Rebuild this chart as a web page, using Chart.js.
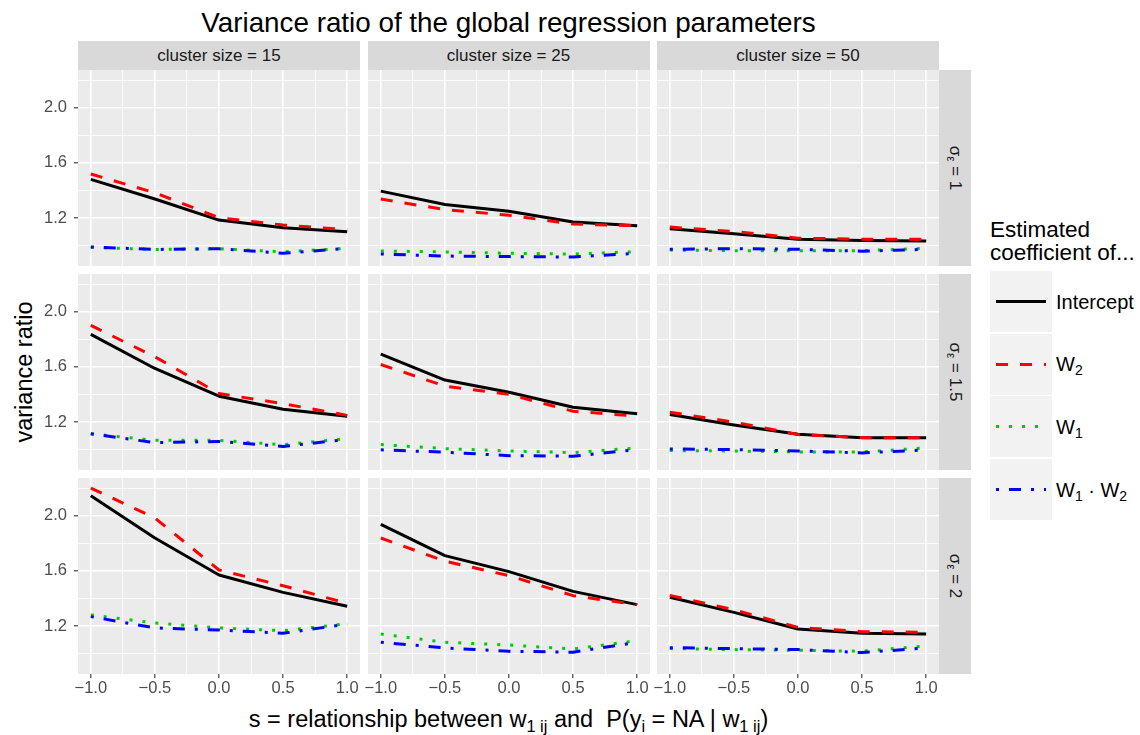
<!DOCTYPE html>
<html>
<head>
<meta charset="utf-8">
<script src="https://cdn.jsdelivr.net/npm/chart.js@4.4.0/dist/chart.umd.min.js"></script>
<style>
  body { margin: 0; width: 1140px; height: 735px; background: #fff; position: relative; overflow: hidden;
         font-family: "Liberation Sans", Arial, sans-serif; }
  canvas { position: absolute; }
  .strip { position: absolute; background: #d9d9d9; color: #1a1a1a; font-size: 17px;
           display: flex; align-items: center; justify-content: center; white-space: nowrap; }
  .rot { transform: rotate(90deg); }
  sub { font-size: 0.7em; vertical-align: -0.3em; line-height: 0; }
  #title { position: absolute; left: 78px; width: 861px; top: 9px; text-align: center;
           font-size: 27.8px; line-height: 27px; color: #000; white-space: nowrap; }
  #ytitle { position: absolute; left: 24px; top: 372px; transform: translate(-50%, -50%) rotate(-90deg);
            font-size: 23.5px; white-space: nowrap; }
  #xtitle { position: absolute; left: 78px; width: 861px; top: 708px; text-align: center;
            font-size: 23.5px; line-height: 23.5px; white-space: nowrap; }
  #legtitle { position: absolute; left: 990px; top: 218px; font-size: 22.5px; line-height: 23px; }
  .key { position: absolute; left: 990px; width: 62px; height: 61px; background: #f2f2f2; }
  .keylab { position: absolute; left: 1056px; font-size: 20px; line-height: 20px; white-space: nowrap; }
</style>
</head>
<body>
<div id="title">Variance ratio of the global regression parameters</div>
<div id="ytitle">variance ratio</div>
<div id="xtitle">s = relationship between w<sub>1 ij</sub> and&nbsp; P(y<sub>i</sub> = NA | w<sub>1 ij</sub>)</div>
<div id="legtitle">Estimated<br>coefficient of...</div>

<script>
// === data ===
const sValues = [-1, -0.5, 0, 0.5, 1];
const clusterSizes = ["15", "25", "50"];
const sigmaLabels = ["1", "1.5", "2"];

// rows = sigma (1, 1.5, 2), columns = cluster size (15, 25, 50)
const interceptRatio = [
  [[1.480, 1.338, 1.185, 1.129, 1.100], [1.395, 1.298, 1.249, 1.171, 1.144], [1.122, 1.085, 1.046, 1.037, 1.034]],
  [[1.835, 1.588, 1.387, 1.292, 1.241], [1.692, 1.504, 1.416, 1.307, 1.259], [1.254, 1.179, 1.111, 1.085, 1.085]],
  [[2.144, 1.838, 1.570, 1.444, 1.343], [1.937, 1.710, 1.594, 1.451, 1.355], [1.408, 1.299, 1.178, 1.147, 1.142]]
];
const w2Ratio = [
  [[1.519, 1.383, 1.202, 1.149, 1.115], [1.337, 1.261, 1.220, 1.156, 1.144], [1.134, 1.102, 1.054, 1.046, 1.046]],
  [[1.900, 1.673, 1.406, 1.333, 1.248], [1.617, 1.460, 1.400, 1.278, 1.242], [1.271, 1.199, 1.109, 1.087, 1.085]],
  [[2.200, 1.983, 1.606, 1.492, 1.364], [1.838, 1.670, 1.565, 1.420, 1.355], [1.422, 1.318, 1.190, 1.159, 1.154]]
];
const w1Ratio = [
  [[0.987, 0.972, 0.977, 0.955, 0.980], [0.961, 0.954, 0.944, 0.939, 0.956], [0.968, 0.963, 0.963, 0.963, 0.980]],
  [[1.115, 1.067, 1.067, 1.035, 1.079], [1.036, 1.007, 0.990, 0.978, 1.012], [0.993, 0.990, 0.983, 0.983, 1.012]],
  [[1.280, 1.222, 1.186, 1.166, 1.217], [1.142, 1.082, 1.062, 1.033, 1.094], [1.036, 1.029, 1.024, 1.017, 1.056]]
];
const w1w2Ratio = [
  [[0.990, 0.972, 0.977, 0.944, 0.980], [0.939, 0.924, 0.920, 0.917, 0.944], [0.973, 0.978, 0.973, 0.959, 0.973]],
  [[1.115, 1.050, 1.059, 1.023, 1.074], [0.998, 0.981, 0.956, 0.952, 1.000], [1.005, 1.000, 0.990, 0.976, 0.998]],
  [[1.268, 1.186, 1.171, 1.147, 1.214], [1.082, 1.041, 1.017, 1.010, 1.082], [1.043, 1.036, 1.029, 1.007, 1.041]]
];

// tick positions (major ones get labels)
const xTicks = [-1, -0.75, -0.5, -0.25, 0, 0.25, 0.5, 0.75, 1];
const xMajor = [-1, -0.5, 0, 0.5, 1];
const yTicks = [1.0, 1.2, 1.4, 1.6, 1.8, 2.0, 2.2];
const yMajor = [1.2, 1.6, 2.0];

// series styles, legend order
const series = [
  { key: "intercept", label: "Intercept", data: interceptRatio, color: "#000000", dash: [] },
  { key: "w2", label: "W<sub>2</sub>", data: w2Ratio, color: "#ff0000", dash: [12, 12] },
  { key: "w1", label: "W<sub>1</sub>", data: w1Ratio, color: "#00cd00", dash: [3, 10] },
  { key: "w1w2", label: "W<sub>1</sub> · W<sub>2</sub>", data: w1w2Ratio, color: "#0000ff", dash: [3, 10, 12, 10] }
];

// === layout of the facet grid ===
const panelLeft = [78, 367.5, 657];
const panelTop = [70, 274, 478];
const panelW = 282;
const panelH = 196;
const FONT = '"Liberation Sans", Arial, sans-serif';

const isIn = (v, list) => list.some((m) => Math.abs(m - v) < 1e-6);

// grey panel background behind the grid
const panelBg = {
  id: "panelBg",
  beforeDraw(chart) {
    const a = chart.chartArea;
    const ctx = chart.ctx;
    ctx.save();
    ctx.fillStyle = "#ebebeb";
    ctx.fillRect(a.left, a.top, a.right - a.left, a.bottom - a.top);
    ctx.restore();
  }
};

// top strips
clusterSizes.forEach((cs, c) => {
  const d = document.createElement("div");
  d.className = "strip";
  d.style.left = panelLeft[c] + "px";
  d.style.top = "41px";
  d.style.width = panelW + "px";
  d.style.height = "29px";
  d.textContent = "cluster size = " + cs;
  document.body.appendChild(d);
});

// right strips
sigmaLabels.forEach((sg, r) => {
  const d = document.createElement("div");
  d.className = "strip";
  d.style.left = "939px";
  d.style.top = panelTop[r] + "px";
  d.style.width = "32px";
  d.style.height = panelH + "px";
  d.innerHTML = '<span class="rot" style="display:inline-block">σ<sub>ε</sub> = ' + sg + "</span>";
  document.body.appendChild(d);
});

// one chart per panel
for (let r = 0; r < 3; r++) {
  for (let c = 0; c < 3; c++) {
    const leftAxis = c === 0;
    const bottomAxis = r === 2;
    const extraLeft = leftAxis ? 70 : 14;
    const extraBottom = bottomAxis ? 30 : 0;

    const canvas = document.createElement("canvas");
    canvas.width = panelW + extraLeft;
    canvas.height = panelH + extraBottom;
    canvas.style.left = panelLeft[c] - extraLeft + "px";
    canvas.style.top = panelTop[r] + "px";
    document.body.appendChild(canvas);

    // reverse so the last series is drawn on top, like ggplot
    const datasets = series.slice().reverse().map((s) => ({
      label: s.key,
      data: sValues.map((x, i) => ({ x: x, y: s.data[r][c][i] })),
      borderColor: s.color,
      borderWidth: 3,
      borderDash: s.dash,
      borderCapStyle: "butt",
      borderJoinStyle: "round",
      pointRadius: 0,
      fill: false,
      tension: 0
    }));

    new Chart(canvas, {
      type: "line",
      data: { datasets: datasets },
      plugins: [panelBg],
      options: {
        responsive: false,
        animation: false,
        events: [],
        layout: { padding: 0 },
        plugins: { legend: { display: false }, tooltip: { enabled: false } },
        scales: {
          x: {
            type: "linear",
            min: -1.1,
            max: 1.1,
            afterBuildTicks: (s) => { s.ticks = xTicks.map((v) => ({ value: v })); },
            afterFit: (s) => {
              s.height = extraBottom;
              s.paddingLeft = 0; s.paddingRight = 0; s.paddingTop = 0; s.paddingBottom = 0;
            },
            border: { display: false },
            grid: {
              color: "#ffffff",
              lineWidth: (ctx) => (isIn(ctx.tick.value, xMajor) ? 1.6 : 0.8),
              drawTicks: bottomAxis,
              tickLength: 4,
              tickWidth: 1.1,
              tickColor: (ctx) => (isIn(ctx.tick.value, xMajor) ? "#333333" : "rgba(0,0,0,0)")
            },
            ticks: {
              display: bottomAxis,
              autoSkip: false,
              maxRotation: 0,
              padding: 1,
              color: "#4d4d4d",
              font: { family: FONT, size: 16.5 },
              callback: (v) => (isIn(v, xMajor) ? v.toFixed(1).replace("-", "\u2212") : "")
            }
          },
          y: {
            type: "linear",
            min: 0.852,
            max: 2.273,
            afterBuildTicks: (s) => { s.ticks = yTicks.map((v) => ({ value: v })); },
            afterFit: (s) => {
              s.width = extraLeft;
              s.paddingLeft = 0; s.paddingRight = 0; s.paddingTop = 0; s.paddingBottom = 0;
            },
            border: { display: false },
            grid: {
              color: "#ffffff",
              lineWidth: (ctx) => (isIn(ctx.tick.value, yMajor) ? 1.6 : 0.8),
              drawTicks: leftAxis,
              tickLength: 4,
              tickWidth: 1.1,
              tickColor: (ctx) => (isIn(ctx.tick.value, yMajor) ? "#333333" : "rgba(0,0,0,0)")
            },
            ticks: {
              display: leftAxis,
              autoSkip: false,
              padding: 7,
              color: "#4d4d4d",
              font: { family: FONT, size: 16.5 },
              callback: (v) => (isIn(v, yMajor) ? v.toFixed(1) : "")
            }
          }
        }
      }
    });
  }
}

// legend keys
series.forEach((s, i) => {
  const top = 271 + i * 62.7;
  const key = document.createElement("div");
  key.className = "key";
  key.style.top = top + "px";
  key.innerHTML =
    '<svg width="62" height="61"><line x1="6" y1="30.5" x2="56" y2="30.5" stroke="' + s.color +
    '" stroke-width="3" stroke-dasharray="' + (s.dash.length ? s.dash.join(" ") : "none") + '"/></svg>';
  document.body.appendChild(key);

  const lab = document.createElement("div");
  lab.className = "keylab";
  lab.style.top = top + 20.5 + "px";
  lab.innerHTML = s.label;
  document.body.appendChild(lab);
});
</script>
</body>
</html>
